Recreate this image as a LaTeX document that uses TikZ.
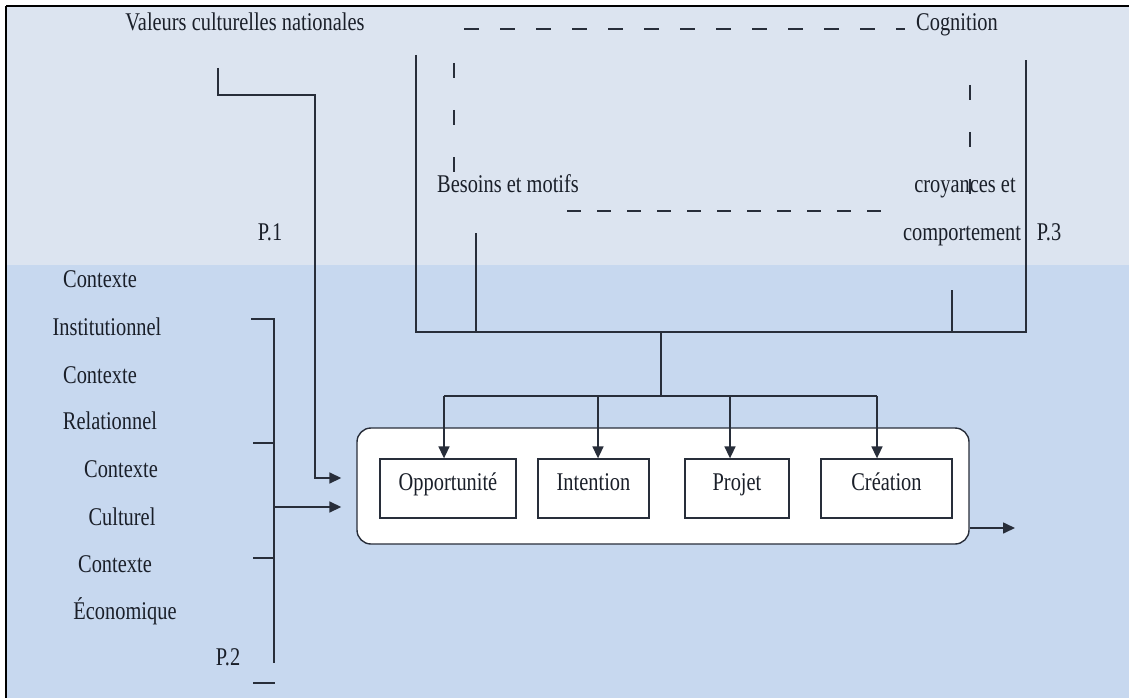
\documentclass[tikz,border=0pt]{standalone}
\usepackage{fontspec}
\usetikzlibrary{arrows.meta}
\newfontfamily\tnr[FakeStretch=0.8]{Liberation Serif}
\definecolor{bandtop}{RGB}{220,228,240}
\definecolor{bandlow}{RGB}{199,216,239}
\definecolor{ink}{RGB}{40,46,58}
\definecolor{txtc}{RGB}{26,31,41}
\begin{document}
\begin{tikzpicture}[x=1pt,y=-1pt,
  txt/.style={font=\tnr\fontsize{25.5}{30}\selectfont, text=txtc, inner sep=0pt, anchor=base},
  ln/.style={draw=ink, line width=1.6pt},
  arr/.style={ln, -{Triangle[length=12pt,width=11pt]}},
  dashh/.style={ln, dash pattern=on 15pt off 21pt},
  dashv/.style={ln, dash pattern=on 15pt off 32pt},
  stage/.style={draw=ink, line width=1.3pt, fill=white, minimum height=59pt, inner sep=0pt,
    font=\tnr\fontsize{25.5}{30}\selectfont, text=txtc, text height=18pt, text depth=15pt},
  frame/.style={draw=ink, line width=1.4pt, fill=white, rounded corners=14pt}]

% page and the two shaded bands
\useasboundingbox (0,0) rectangle (1129,698);
\fill[white] (0,0) rectangle (1129,698);
\fill[bandtop] (7,7) rectangle (1129,265);
\fill[bandlow] (7,265) rectangle (1129,698);
\draw[black, line width=2pt] (6,6) -- (1129,6);
\draw[black, line width=2pt] (6,6) -- (6,698);

% top labels
\node[txt] (valeurs) at (245,31) {Valeurs culturelles nationales};
\node[txt] (cognition) at (957,31) {Cognition};
\node[txt] (besoins) at (508,192) {Besoins et motifs};
\node[txt] (croy) at (965,192) {croyances et};
\node[txt] (comport) at (962,240) {comportement};
\node[txt] (p3) at (1049,240) {P.3};
\node[txt] (p1) at (270,240) {P.1};

% context labels on the left
\node[txt] (c1) at (100,287) {Contexte};
\node[txt] (inst) at (107,335) {Institutionnel};
\node[txt] (c2) at (100,383) {Contexte};
\node[txt] (rel) at (110,429) {Relationnel};
\node[txt] (c3) at (121,477) {Contexte};
\node[txt] (cult) at (122,525) {Culturel};
\node[txt] (c4) at (115,572) {Contexte};
\node[txt] (eco) at (125,619) {Économique};
\node[txt] (p2) at (228,665) {P.2};

% dashed cognition frame
\draw[dashh] (464,29) -- (905,29);
\draw[dashv] (454,63) -- (454,172);
\draw[dashv] (970,85) -- (970,194);
\draw[ln, dash pattern=on 14pt off 16pt] (567,211) -- (892,211);

% solid frame gathering the cognitive factors
\coordinate (cogL) at (416,55);
\coordinate (cogR) at (1026,60);
\coordinate (cogBL) at (416,332);
\coordinate (cogBR) at (1026,332);
\draw[ln] (cogL) -- (cogBL) -- (cogBR) -- (cogR);
\coordinate (tickA) at (476,233);
\coordinate (tickB) at (952,290);
\draw[ln] (tickA) -- (tickA |- cogBL);
\draw[ln] (tickB) -- (tickB |- cogBL);

% process frame and its stages
\node[frame, minimum width=612pt, minimum height=116pt] (proc) at (663,486) {};
\node[stage, minimum width=136pt] (opp) at (448,488.5) {Opportunité};
\node[stage, minimum width=111pt] (intent) at (593.5,488.5) {Intention};
\node[stage, minimum width=104pt] (projet) at (737,488.5) {Projet};
\node[stage, minimum width=131pt] (creation) at (886.5,488.5) {Création};

% distribution from the cognition frame to the stages
\coordinate (stemTop) at (661,332);
\coordinate (stemBot) at (661,396);
\coordinate (bus1) at (444,396);
\coordinate (bus2) at (598,396);
\coordinate (bus3) at (730,396);
\coordinate (bus4) at (877,396);
\draw[ln] (stemTop) -- (stemBot);
\draw[ln] (bus1) -- (bus4);
\draw[arr] (bus1) -- (bus1 |- opp.north);
\draw[arr] (bus2) -- (bus2 |- intent.north);
\draw[arr] (bus3) -- (bus3 |- projet.north);
\draw[arr] (bus4) -- (bus4 |- creation.north);

% P.1: national cultural values
\coordinate (p1a) at (218,68);
\coordinate (p1b) at (315,95);
\coordinate (p1c) at (315,478);
\draw[arr, shorten >=15pt] (p1a) |- (p1b) -- (p1c) -- (p1c -| proc.west);

% P.2: bracket of contexts
\coordinate (brTop) at (274,319);
\coordinate (brBot) at (274,663);
\coordinate (brMid) at (274,507);
\draw[ln] (251,319) -- (brTop) -- (brBot);
\draw[ln] (253,443) -- (274,443);
\draw[ln] (253,558) -- (274,558);
\draw[ln] (253,683) -- (275,683);
\draw[arr, shorten >=15pt] (brMid) -- (brMid -| proc.west);

% outcome
\coordinate (out) at (1015,528);
\draw[arr] (out -| proc.east) -- (out);

\end{tikzpicture}
\end{document}
